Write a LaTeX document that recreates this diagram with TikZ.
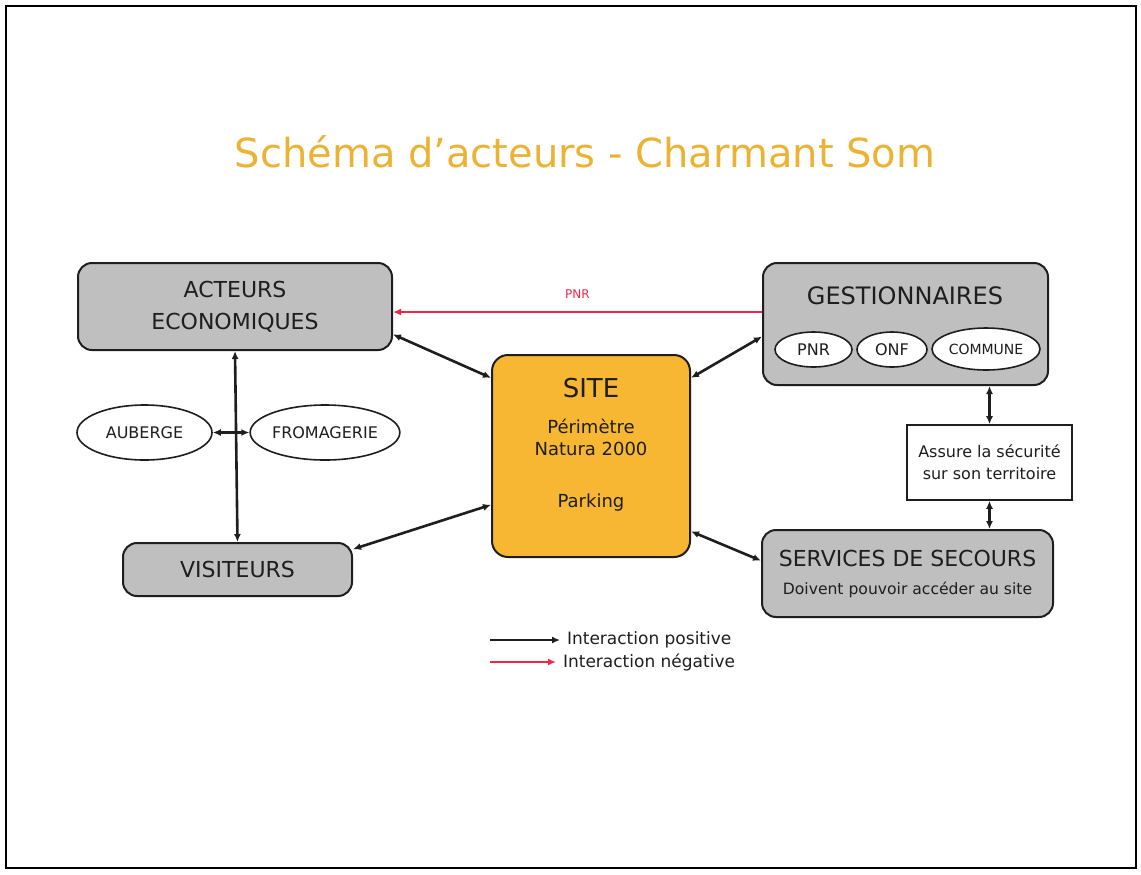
\documentclass[tikz,border=0pt]{standalone}
\usepackage{fontspec}
\setmainfont{DejaVu Sans}
\usepackage{tikz}
\usetikzlibrary{arrows.meta,positioning,calc,shapes.geometric}
\definecolor{boxGray}{RGB}{191, 191, 191}
\definecolor{siteOrange}{RGB}{247, 183, 51}
\definecolor{titleGold}{RGB}{236, 178, 52}
\definecolor{inkDark}{RGB}{30, 30, 30}
\definecolor{negRed}{RGB}{240, 40, 70}

\begin{document}
\begin{tikzpicture}[x=0.5pt, y=-0.5pt,
    actorbox/.style={draw=inkDark, fill=boxGray, rounded corners=7pt, line width=1pt, align=center, text=inkDark, inner sep=2pt},
    actorell/.style={draw=inkDark, fill=white, ellipse, line width=0.8pt, inner sep=0pt, text=inkDark, font=\fontsize{8pt}{10pt}\selectfont},
    posarrow/.style={{Latex[length=4pt,width=3.5pt]}-{Latex[length=4pt,width=3.5pt]}, line width=1.3pt, color=inkDark},
    negarrow/.style={-{Latex[length=4pt,width=3.5pt]}, line width=1.2pt, color=negRed}]
      \useasboundingbox (0,0) rectangle (1141,874);
      \draw[line width=1pt, black] (6,6) rectangle (1136,868);

      % title
      \node (title) [text=titleGold, font=\fontsize{20pt}{24pt}\selectfont] at (585,152) {Schéma d'acteurs - Charmant Som};

      % actors
      \node (acteurs) [actorbox, minimum width=157pt, minimum height=43.5pt, font=\fontsize{11pt}{16pt}\selectfont] at (235,306.5) {ACTEURS\\ECONOMIQUES};
      \node (gest) [actorbox, minimum width=142.5pt, minimum height=61pt] at (905.5,324) {};
      \node (gestTitle) [text=inkDark, font=\fontsize{12pt}{14pt}\selectfont] at (905,296) {GESTIONNAIRES};
      \node (pnr) [actorell, minimum width=38.5pt, minimum height=17.5pt] at (813.5,349.5) {PNR};
      \node (onf) [actorell, minimum width=35pt, minimum height=17.5pt] at (892,349.5) {ONF};
      \node (commune) [actorell, minimum width=54pt, minimum height=21pt, font=\fontsize{7pt}{9pt}\selectfont] at (986,349) {COMMUNE};

      \node (site) [draw=inkDark, fill=siteOrange, rounded corners=8pt, line width=1pt, minimum width=99pt, minimum height=101pt] at (591,456) {};
      \node (siteText) [align=center, text=inkDark, font=\fontsize{9pt}{11pt}\selectfont] at (591,445) {
          {\fontsize{13pt}{15pt}\selectfont SITE}\\[7pt]
          Périmètre\\Natura 2000\\[15pt]
          Parking
      };

      \node (auberge) [actorell, minimum width=67.5pt, minimum height=27.5pt] at (144.5,432.5) {AUBERGE};
      \node (fromagerie) [actorell, minimum width=67.5pt, minimum height=27.5pt] at (325,432.5) {FROMAGERIE};

      \node (visiteurs) [actorbox, minimum width=114.5pt, minimum height=26.5pt, font=\fontsize{11pt}{13pt}\selectfont] at (237.5,569.5) {VISITEURS};

      \node (assure) [draw=inkDark, fill=white, line width=0.8pt, align=center, text=inkDark, minimum width=82.5pt, minimum height=37.5pt, inner sep=1pt, font=\fontsize{8pt}{11pt}\selectfont] at (989.5,462.5) {Assure la sécurité\\sur son territoire};

      \node (secours) [actorbox, minimum width=145.5pt, minimum height=43.5pt, font=\fontsize{11pt}{13pt}\selectfont] at (907.5,573.5) {
          SERVICES DE SECOURS\\[1pt]
          {\fontsize{7.8pt}{9pt}\selectfont Doivent pouvoir accéder au site}
      };

      % connectors
      \draw[negarrow] (gest.west |- acteurs.-2.4) -- (acteurs.-2.4) node[midway, above=3pt, text=negRed, font=\fontsize{6pt}{7pt}\selectfont] {PNR};
      \draw[posarrow] (acteurs.-10) -- (site.142);
      \draw[posarrow] (gest.185) -- (site.38);
      \draw[posarrow] (visiteurs.10) -- (site.206);
      \draw[posarrow] (site.-37) -- (secours.175);
      \draw[posarrow] (acteurs.south) -- (visiteurs.north);
      \draw[posarrow] (auberge.east) -- (fromagerie.west);
      \draw[posarrow] (assure.north) -- (assure.north |- gest.south);
      \draw[posarrow] (assure.south) -- (assure.south |- secours.north);

      % legend
      \node (legPos) [anchor=west, text=inkDark, font=\fontsize{8.5pt}{10pt}\selectfont] at (560,640) {Interaction positive};
      \node (legNeg) [anchor=west, text=inkDark, font=\fontsize{8.5pt}{10pt}\selectfont] at (556,662) {Interaction négative};
      \coordinate (legPosStart) at (490,640);
      \coordinate (legNegStart) at (490,662);
      \draw[-{Latex[length=4pt,width=3.5pt]}, line width=1.3pt, color=inkDark] (legPosStart) -- (legPos.west);
      \draw[negarrow] (legNegStart) -- (legNeg.west);
  \end{tikzpicture}
\end{document}
